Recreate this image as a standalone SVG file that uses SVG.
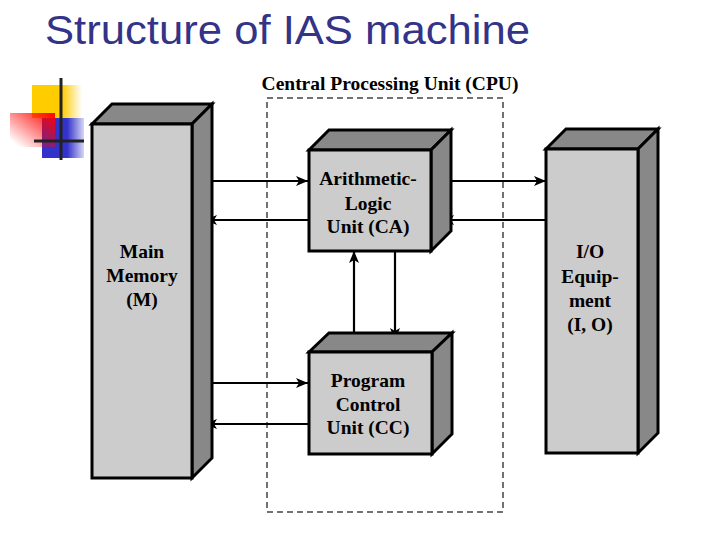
<svg xmlns="http://www.w3.org/2000/svg" width="720" height="540" viewBox="0 0 720 540">
  <defs>
    <marker id="arr" viewBox="0 0 12 10" refX="12" refY="5" markerWidth="12" markerHeight="10" markerUnits="userSpaceOnUse" orient="auto">
      <path d="M0,0 L12,5 L0,10 L3,5 Z" fill="#000"/>
    </marker>
    <linearGradient id="gy" x1="0" y1="0" x2="1" y2="0">
      <stop offset="0" stop-color="#ffcc00"/>
      <stop offset="0.6" stop-color="#ffcc00"/>
      <stop offset="1" stop-color="#ffcc00" stop-opacity="0"/>
    </linearGradient>
    <linearGradient id="gr" x1="1" y1="0" x2="0" y2="1">
      <stop offset="0" stop-color="#ff0000"/>
      <stop offset="0.9" stop-color="#ff0000" stop-opacity="0"/>
    </linearGradient>
    <linearGradient id="gb" x1="0" y1="0" x2="1" y2="0">
      <stop offset="0" stop-color="#3333cc"/>
      <stop offset="0.6" stop-color="#3333cc"/>
      <stop offset="1" stop-color="#3333cc" stop-opacity="0.2"/>
    </linearGradient>
  </defs>
  <style>
    .front { fill: #cccccc; stroke: #000; stroke-width: 3; stroke-linejoin: miter; }
    .shade { fill: #888888; stroke: #000; stroke-width: 3; stroke-linejoin: miter; }
    .lbl { font-family: "Liberation Serif", "Times New Roman", serif; font-weight: bold; font-size: 19.5px; fill: #000; text-anchor: middle; }
    .conn line { stroke: #000; stroke-width: 2.2; }
  </style>
  <rect width="720" height="540" fill="#fff"/>

  <!-- slide title -->
  <text x="45" y="44" font-family="'Liberation Sans', Arial, sans-serif" font-size="40" fill="#333388" textLength="485" lengthAdjust="spacingAndGlyphs">Structure of IAS machine</text>

  <!-- logo -->
  <g id="logo">
    <rect x="32" y="85" width="50" height="33" fill="url(#gy)"/>
    <rect x="42" y="118" width="42" height="40" fill="url(#gb)"/>
    <rect x="10" y="113" width="45" height="34" fill="url(#gr)"/>
    <line x1="61" y1="78" x2="61" y2="160" stroke="#222" stroke-width="3"/>
    <line x1="34" y1="141" x2="84" y2="141" stroke="#222" stroke-width="3"/>
  </g>

  <!-- CPU dashed boundary -->
  <g id="cpu">
    <rect x="267" y="98" width="236" height="414" fill="none" stroke="#444" stroke-width="1.5" stroke-dasharray="6,4"/>
    <text x="390" y="90" font-family="'Liberation Serif', 'Times New Roman', serif" font-weight="bold" font-size="19.5" text-anchor="middle">Central Processing Unit (CPU)</text>
  </g>

  <!-- connectors -->
  <g id="connectors" class="conn">
    <line x1="203" y1="181" x2="308" y2="181" marker-end="url(#arr)"/>
    <line x1="308" y1="220" x2="205" y2="220" marker-end="url(#arr)"/>
    <line x1="440" y1="181" x2="546" y2="181" marker-end="url(#arr)"/>
    <line x1="546" y1="220" x2="442" y2="220" marker-end="url(#arr)"/>
    <line x1="203" y1="383" x2="308" y2="383" marker-end="url(#arr)"/>
    <line x1="308" y1="424" x2="205" y2="424" marker-end="url(#arr)"/>
    <line x1="354" y1="342" x2="354" y2="251" marker-end="url(#arr)"/>
    <line x1="395" y1="251" x2="395" y2="340" marker-end="url(#arr)"/>
  </g>

  <!-- Main Memory -->
  <g id="memory">
    <polygon class="shade" points="92,124 112,104 212,104 192,124"/>
    <polygon class="shade" points="192,124 212,104 212,458 192,478"/>
    <rect class="front" x="92" y="124" width="100" height="354"/>
    <text class="lbl" x="142" y="258">Main</text>
    <text class="lbl" x="142" y="282">Memory</text>
    <text class="lbl" x="142" y="306">(M)</text>
  </g>

  <!-- ALU -->
  <g id="alu">
    <polygon class="shade" points="309,150 329,130 451,130 431,150"/>
    <polygon class="shade" points="431,150 451,130 451,231 431,251"/>
    <rect class="front" x="309" y="150" width="122" height="101"/>
    <text class="lbl" x="368" y="185">Arithmetic-</text>
    <text class="lbl" x="368" y="210">Logic</text>
    <text class="lbl" x="368" y="233">Unit (CA)</text>
  </g>

  <!-- Program Control Unit -->
  <g id="pcu">
    <polygon class="shade" points="309,352 329,333 452,333 432,352"/>
    <polygon class="shade" points="432,352 452,333 452,434 432,454"/>
    <rect class="front" x="309" y="352" width="123" height="102"/>
    <text class="lbl" x="368" y="387">Program</text>
    <text class="lbl" x="368" y="411">Control</text>
    <text class="lbl" x="368" y="434">Unit (CC)</text>
  </g>

  <!-- I/O Equipment -->
  <g id="io">
    <polygon class="shade" points="546,149 566,129 658,129 638,149"/>
    <polygon class="shade" points="638,149 658,129 658,433 638,453"/>
    <rect class="front" x="546" y="149" width="92" height="304"/>
    <text class="lbl" x="590" y="258">I/O</text>
    <text class="lbl" x="590" y="283">Equip-</text>
    <text class="lbl" x="590" y="307">ment</text>
    <text class="lbl" x="590" y="331">(I, O)</text>
  </g>
</svg>
